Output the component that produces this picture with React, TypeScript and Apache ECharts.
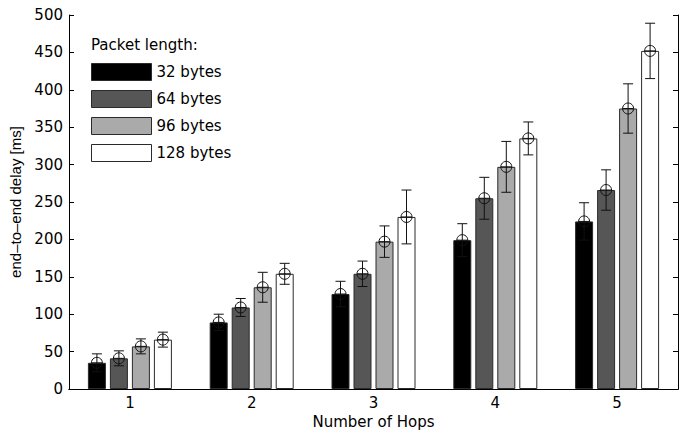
import React, { useEffect, useRef } from "react";
import * as echarts from "echarts";

const hops = ["1", "2", "3", "4", "5"];
const seriesNames = ["32 bytes", "64 bytes", "96 bytes", "128 bytes"];
const delay32 = [35, 89, 127, 199, 224];
const err32 = [12, 11, 17, 22, 25];
const delay64 = [41, 109, 154, 255, 266];
const err64 = [10, 12, 17, 28, 27];
const delay96 = [57, 136, 197, 297, 375];
const err96 = [10, 20, 21, 34, 33];
const delay128 = [66, 154, 230, 335, 452];
const err128 = [10, 14, 36, 22, 37];
const yTicks = [0, 50, 100, 150, 200, 250, 300, 350, 400, 450, 500];

const colors = ["#000000", "#565656", "#aaaaaa", "#ffffff"];
const FONT = "DejaVu Sans";

export default function App() {
  const ref = useRef<HTMLDivElement>(null);
  useEffect(() => {
    if (!ref.current) return;
    const chart = echarts.init(ref.current, null, { renderer: "svg" });
    const means = [delay32, delay64, delay96, delay128];
    const errs = [err32, err64, err96, err128];
    const barWidth = 18;
    const gapPx = 4;
    const barSeries: any[] = seriesNames.map((name, i) => ({
      name,
      type: "bar",
      data: means[i],
      barWidth,
      barGap: (gapPx / barWidth) * 100 + "%",
      itemStyle: { color: colors[i], borderColor: "#2a2a2a", borderWidth: 1 },
      z: 2,
    }));
    const errSeries: any[] = seriesNames.map((name, i) => {
      const offset = (i - 1.5) * (barWidth + gapPx);
      return {
        name: "err-" + name,
        type: "custom",
        z: 5,
        data: means[i].map((m, k) => [k, m, errs[i][k]]),
        renderItem: (params: any, api: any) => {
          const k = api.value(0);
          const m = api.value(1);
          const e = api.value(2);
          const c = api.coord([k, m]);
          const top = api.coord([k, m + e]);
          const bot = api.coord([k, m - e]);
          const x = c[0] + offset;
          const cap = 5;
          const r = 5.5;
          const st = { stroke: "#111", lineWidth: 1, fill: null };
          return {
            type: "group",
            children: [
              { type: "line", shape: { x1: x, y1: top[1], x2: x, y2: bot[1] }, style: st },
              { type: "line", shape: { x1: x - cap, y1: top[1], x2: x + cap, y2: top[1] }, style: st },
              { type: "line", shape: { x1: x - cap, y1: bot[1], x2: x + cap, y2: bot[1] }, style: st },
              { type: "circle", shape: { cx: x, cy: c[1], r }, style: { stroke: "#111", lineWidth: 1, fill: "none" } },
              { type: "line", shape: { x1: x - r, y1: c[1], x2: x + r, y2: c[1] }, style: st },
            ],
          };
        },
      };
    });
    const axisLabelStyle = { color: "#000", fontSize: 15, fontFamily: FONT };
    chart.setOption({
      animation: false,
      backgroundColor: "#fff",
      grid: { left: 69, right: 8, top: 15, bottom: 44, outerBoundsMode: "none" },
      legend: {
        data: seriesNames,
        orient: "vertical",
        left: 91,
        top: 63,
        padding: 0,
        icon: "rect",
        itemWidth: 60,
        itemHeight: 17,
        itemGap: 9,
        itemStyle: { borderColor: "#2a2a2a", borderWidth: 1 },
        textStyle: { color: "#000", fontSize: 15, fontFamily: FONT },
        selectedMode: false,
      },
      graphic: [
        {
          type: "text",
          left: 91,
          top: 37,
          style: { text: "Packet length:", fill: "#000", fontSize: 15, fontFamily: FONT },
        },
      ],
      xAxis: [
        {
          type: "category",
          data: hops,
          name: "Number of Hops",
          nameLocation: "middle",
          nameGap: 25,
          nameTextStyle: axisLabelStyle,
          axisLine: { lineStyle: { color: "#000" } },
          axisTick: { inside: true, alignWithLabel: true, length: 5, lineStyle: { color: "#000" } },
          axisLabel: { ...axisLabelStyle, margin: 6 },
          splitLine: { show: false },
        },
        {
          type: "category",
          data: hops,
          position: "top",
          axisLine: { lineStyle: { color: "#000" } },
          axisTick: { inside: true, alignWithLabel: true, length: 5, lineStyle: { color: "#000" } },
          axisLabel: { show: false },
        },
      ],
      yAxis: [
        {
          type: "value",
          min: 0,
          max: yTicks[yTicks.length - 1],
          interval: yTicks[1] - yTicks[0],
          name: "end\u2013to\u2013end delay [ms]",
          nameLocation: "middle",
          nameGap: 44,
          nameTextStyle: { color: "#000", fontSize: 15, fontFamily: "Liberation Sans" },
          axisLine: { show: true, lineStyle: { color: "#000" } },
          axisTick: { show: true, inside: true, length: 5, lineStyle: { color: "#000" } },
          axisLabel: { ...axisLabelStyle, margin: 6 },
          splitLine: { show: false },
        },
        {
          type: "value",
          min: 0,
          max: yTicks[yTicks.length - 1],
          interval: yTicks[1] - yTicks[0],
          position: "right",
          axisLine: { show: true, lineStyle: { color: "#000" } },
          axisTick: { show: true, inside: true, length: 5, lineStyle: { color: "#000" } },
          axisLabel: { show: false },
          splitLine: { show: false },
        },
      ],
      series: [...barSeries, ...errSeries],
    });
    return () => chart.dispose();
  }, []);
  return <div ref={ref} style={{ width: 686, height: 433, position: "absolute", left: 0, top: 0 }} />;
}
